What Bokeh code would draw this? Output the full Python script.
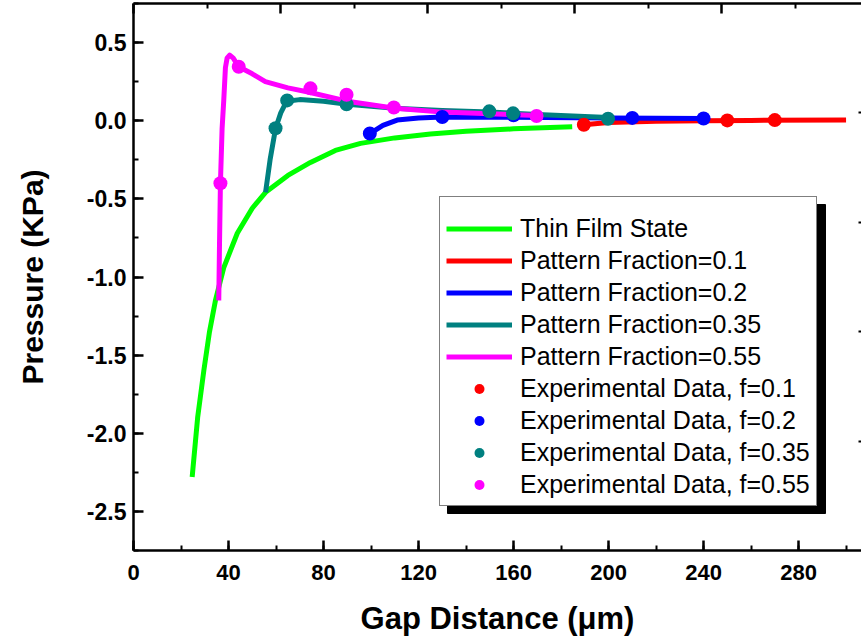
from bokeh.plotting import figure
from bokeh.models import (Range1d, LinearAxis, FixedTicker, SingleIntervalTicker,
                          NumeralTickFormatter, Legend, LegendItem, BoxAnnotation,
                          CustomJSTickFormatter)
from bokeh.embed import file_html
from bokeh.resources import INLINE

# ---------------- data ----------------
thin_x = [24.7, 27.0, 29.6, 32.0, 34.5, 38.0, 43.7, 50.0, 55.6, 65.0, 74.5, 85.0,
          95.6, 110.0, 125.0, 140.0, 160.0, 184.7]
thin_y = [-2.28, -1.90, -1.60, -1.35, -1.15, -0.94, -0.72, -0.56, -0.458, -0.35,
          -0.267, -0.19, -0.145, -0.11, -0.085, -0.068, -0.052, -0.038]

f01_x = [189.6, 200.0, 220.0, 240.0, 260.0, 300.0]
f01_y = [-0.026, -0.012, -0.004, 0.0, 0.002, 0.004]

f02_x = [99.5, 105.0, 111.0, 120.0, 130.0, 160.0, 200.0, 240.0]
f02_y = [-0.082, -0.03, 0.004, 0.018, 0.024, 0.022, 0.018, 0.014]

f035_x = [55.6, 57.5, 59.8, 62.0, 64.5, 70.0, 80.0, 90.0, 110.0, 130.0, 150.0, 170.0, 200.0]
f035_y = [-0.458, -0.25, -0.05, 0.05, 0.125, 0.135, 0.125, 0.105, 0.08, 0.065, 0.055, 0.04, 0.02]

f055_x = [35.9, 36.2, 36.6, 37.3, 38.0, 38.7, 39.4, 40.5, 42.0, 44.3, 50.0, 55.5, 65.0,
          73.0, 90.0, 110.0, 130.0, 150.0, 167.0]
f055_y = [-1.15, -0.8, -0.4, -0.05, 0.13, 0.34, 0.40, 0.42, 0.40, 0.345, 0.30, 0.25, 0.21,
          0.185, 0.125, 0.08, 0.055, 0.045, 0.035]

exp01_x = [189.6, 250.0, 270.0]
exp01_y = [-0.026, 0.002, 0.004]
exp02_x = [99.5, 130.0, 160.0, 210.0, 240.0]
exp02_y = [-0.082, 0.024, 0.035, 0.018, 0.014]
exp035_x = [59.8, 64.7, 89.7, 149.8, 159.8, 199.8]
exp035_y = [-0.048, 0.13, 0.105, 0.06, 0.047, 0.013]
exp055_x = [36.6, 44.3, 74.5, 89.7, 109.6, 169.7]
exp055_y = [-0.40, 0.345, 0.207, 0.166, 0.085, 0.030]

line_labels = ["Thin Film State", "Pattern Fraction=0.1", "Pattern Fraction=0.2",
               "Pattern Fraction=0.35", "Pattern Fraction=0.55"]
exp_labels = ["Experimental Data, f=0.1", "Experimental Data, f=0.2",
              "Experimental Data, f=0.35", "Experimental Data, f=0.55"]
colors = ["#00FF00", "#FF0000", "#0000FF", "#008080", "#FF00FF"]

# ---------------- figure ----------------
FONT = "Liberation Sans"
p = figure(width=861, height=642, output_backend="svg", toolbar_location=None,
           x_range=Range1d(0, 306.5), y_range=Range1d(-2.75, 0.75),
           min_border_left=133, min_border_top=3, min_border_bottom=92, min_border_right=0,
           x_axis_location=None, y_axis_location=None)
p.grid.visible = False
p.outline_line_color = None
p.background_fill_color = "white"
p.border_fill_color = "white"

def style_axis(ax, labels=True):
    ax.axis_line_width = 2.5
    ax.axis_line_color = "black"
    ax.major_tick_in = 10
    ax.major_tick_out = 0
    ax.minor_tick_in = 5
    ax.minor_tick_out = 0
    ax.major_tick_line_width = 2.5
    ax.minor_tick_line_width = 2
    ax.major_tick_line_color = "black"
    ax.minor_tick_line_color = "black"
    if labels:
        ax.major_label_text_font = FONT
        ax.major_label_text_font_style = "bold"
        ax.major_label_text_font_size = "22px"
        ax.major_label_text_color = "black"
        ax.axis_label_text_font = FONT
        ax.axis_label_text_font_style = "bold"
        ax.axis_label_text_font_size = "31px"
        ax.axis_label_text_color = "black"
    else:
        ax.formatter = CustomJSTickFormatter(code="return ''")
        ax.major_label_text_font_size = "1px"
        ax.major_label_standoff = 0
        ax.axis_label = None

xb = LinearAxis(ticker=SingleIntervalTicker(interval=40, num_minor_ticks=2),
                axis_label="Gap Distance (\u03bcm)")
style_axis(xb)
xb.major_label_standoff = 14
xb.axis_label_standoff = 18
p.add_layout(xb, "below")

yl = LinearAxis(ticker=SingleIntervalTicker(interval=0.5, num_minor_ticks=2),
                formatter=NumeralTickFormatter(format="0.0"),
                axis_label="Pressure (KPa)")
style_axis(yl)
yl.major_label_text_font_size = "23px"
yl.axis_label_text_font_size = "30px"
yl.major_label_standoff = 7
yl.axis_label_standoff = 35
p.add_layout(yl, "left")

# secondary (unlabelled) top and right axes
p.extra_x_ranges = {"top": Range1d(0, 728 / 147.0)}
p.extra_y_ranges = {"right": Range1d(0, 5)}
xt = LinearAxis(x_range_name="top",
                ticker=FixedTicker(ticks=[0, 1, 2, 3, 4], minor_ticks=[0.5, 1.5, 2.5, 3.5, 4.5]))
style_axis(xt, labels=False)
p.add_layout(xt, "above")
yr = LinearAxis(y_range_name="right", ticker=FixedTicker(ticks=[], minor_ticks=[1, 2, 3, 4]))
style_axis(yr, labels=False)
yr.axis_line_color = None
yr.minor_tick_in = 3
p.add_layout(yr, "right")

# ---------------- glyphs ----------------
LW = 5
series = [(thin_x, thin_y), (f01_x, f01_y), (f02_x, f02_y), (f035_x, f035_y), (f055_x, f055_y)]
line_r = []
for (xs, ys), c in zip(series, colors):
    line_r.append(p.line(xs, ys, line_color=c, line_width=LW, line_join="round"))

exps = [(exp01_x, exp01_y), (exp02_x, exp02_y), (exp035_x, exp035_y), (exp055_x, exp055_y)]
pt_r = []
for (xs, ys), c in zip(exps, colors[1:]):
    pt_r.append(p.scatter(xs, ys, size=14, fill_color=c, line_color=c, line_width=0))

# ---------------- legend with shadow ----------------
LEG_X, LEG_Y = 306, 44
LEG_W, LEG_H = 378, 309
shadow = BoxAnnotation(left=LEG_X + 8, right=LEG_X + 8 + LEG_W,
                       bottom=LEG_Y - 7, top=LEG_Y - 7 + LEG_H,
                       left_units="screen", right_units="screen",
                       bottom_units="screen", top_units="screen",
                       fill_color="black", fill_alpha=1.0, line_color="black", line_alpha=1.0)
p.add_layout(shadow)

items = [LegendItem(label=l, renderers=[r]) for l, r in zip(line_labels, line_r)]
items += [LegendItem(label=l, renderers=[r]) for l, r in zip(exp_labels, pt_r)]
legend = Legend(items=items, location=(LEG_X, LEG_Y), orientation="vertical",
                title=" ", title_text_font_size="10px", title_standoff=0,
                label_text_font=FONT, label_text_font_size="25px", label_text_color="black",
                glyph_width=66, glyph_height=25, label_height=25, label_standoff=8,
                padding=6, spacing=3, margin=0,
                border_line_color="black", border_line_width=1.2,
                background_fill_color="white", background_fill_alpha=1.0)
p.add_layout(legend)

open("out.html", "w").write(file_html(p, INLINE))
